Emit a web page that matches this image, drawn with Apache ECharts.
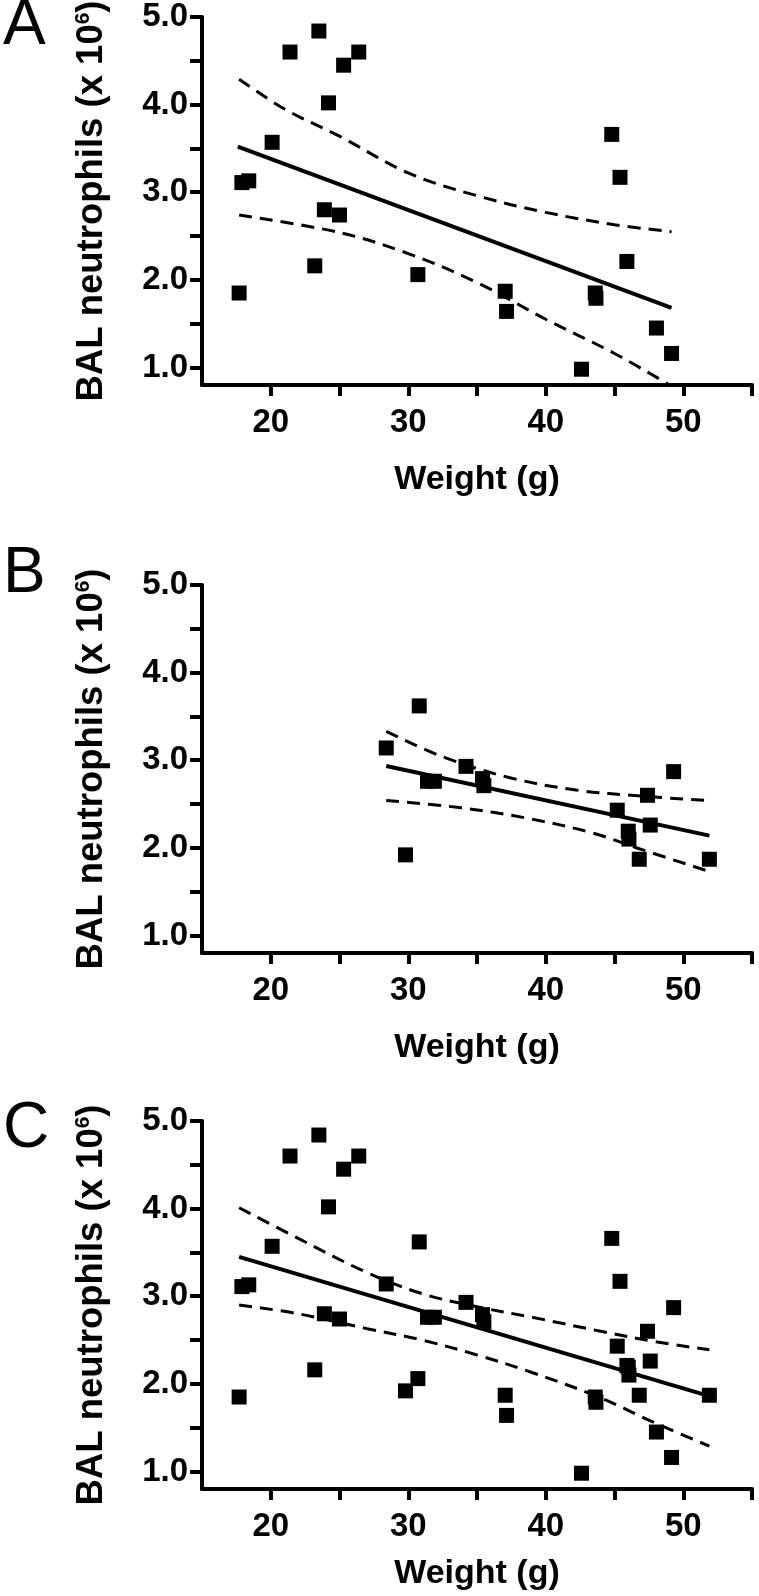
<!DOCTYPE html>
<html>
<head>
<meta charset="utf-8">
<script src="https://cdn.jsdelivr.net/npm/echarts@6/dist/echarts.min.js"></script>
<style>
html,body{margin:0;padding:0;background:#fff;}
#chart{width:759px;height:1596px;}
</style>
</head>
<body>
<div id="chart"></div>
<script>
// ---------- data (weight g, BAL neutrophils x10^6) ----------
const panelA_points = [
  [17.7,1.85],[17.9,3.11],[18.4,3.13],[20.1,3.57],[21.4,4.60],[23.2,2.16],[23.5,4.84],
  [23.9,2.80],[24.2,4.02],[25.0,2.74],[25.3,4.45],[26.4,4.60],[30.7,2.06],[37.05,1.87],
  [37.15,1.64],[42.6,0.98],[43.6,1.85],[43.65,1.79],[44.8,3.66],[45.4,3.17],[45.9,2.21],
  [48.05,1.45],[49.15,1.16]
];
const panelB_points = [
  [28.4,3.14],[29.8,1.92],[30.8,3.62],[31.4,2.76],[31.9,2.76],[34.2,2.93],[35.4,2.79],
  [35.5,2.71],[45.2,2.43],[46.0,2.19],[46.05,2.10],[46.8,1.87],[47.4,2.60],[47.6,2.26],
  [49.3,2.87],[51.9,1.87]
];
const panelC_points = panelA_points.concat(panelB_points);

const panelA_fit   = [[17.6,3.52],[49.15,1.68]];
const panelA_upper = [[17.7,4.29],[21,3.95],[25,3.64],[30,3.22],[35,2.96],[40,2.77],[45,2.63],[49.15,2.55]];
const panelA_lower = [[17.7,2.74],[25,2.54],[30,2.30],[35,1.97],[40,1.55],[45,1.16],[49.0,0.80]];

const panelB_fit   = [[28.4,2.935],[51.9,2.14]];
const panelB_upper = [[28.4,3.33],[32.5,3.04],[37.4,2.80],[42.2,2.66],[47,2.59],[51.9,2.54]];
const panelB_lower = [[28.4,2.54],[33.7,2.46],[38.6,2.34],[43.4,2.17],[47,1.98],[51.9,1.73]];

const panelC_fit   = [[17.7,3.45],[51.9,1.86]];
const panelC_upper = [[17.7,4.01],[22,3.66],[27,3.27],[31,3.03],[35,2.88],[39,2.76],[44,2.60],[48,2.48],[51.9,2.39]];
const panelC_lower = [[17.7,2.90],[22,2.80],[27,2.63],[31,2.50],[35,2.33],[39,2.13],[44,1.84],[48,1.55],[51.9,1.29]];

const xTickValues  = [20,25,30,35,40,45,50,55];
const xLabelValues = [20,30,40,50];
const yTickValues  = [1.0,1.5,2.0,2.5,3.0,3.5,4.0,4.5,5.0];
const yLabelValues = [1,2,3,4,5];
const panelLetters = ['A','B','C'];
const xTitle = 'Weight (g)';
const yTitle = 'BAL neutrophils (x 10{sup|6})';

// ---------- layout ----------
const FONT = '"Liberation Sans", Arial, Helvetica, sans-serif';
const gridTops = [17, 585, 1121];
const letterY = [27, 575, 1130];
const xNameGaps = [78, 78, 68];
const GRID_H = 368, GRID_L = 202, GRID_W = 550;

const chart = echarts.init(document.getElementById('chart'), null, {renderer:'canvas'});

const grids = [], xAxes = [], yAxes = [], series = [];
const panels = [
  {pts: panelA_points, fit: panelA_fit, up: panelA_upper, lo: panelA_lower},
  {pts: panelB_points, fit: panelB_fit, up: panelB_upper, lo: panelB_lower},
  {pts: panelC_points, fit: panelC_fit, up: panelC_upper, lo: panelC_lower}
];

panels.forEach((p, i) => {
  grids.push({left: GRID_L, top: gridTops[i], width: GRID_W, height: GRID_H,
              containLabel: false, outerBoundsMode: 'none'});
  xAxes.push({
    type: 'value', gridIndex: i, min: 15, max: 55, interval: 5,
    axisLine: {lineStyle: {color: '#000', width: 4}},
    axisTick: {show: true, length: 11, lineStyle: {color: '#000', width: 4}, customValues: xTickValues},
    axisLabel: {customValues: xLabelValues, color: '#000', fontFamily: FONT, fontWeight: 'bold', fontSize: 33, margin: 21},
    splitLine: {show: false},
    name: xTitle, nameLocation: 'middle', nameGap: xNameGaps[i],
    nameTextStyle: {color: '#000', fontFamily: FONT, fontWeight: 'bold', fontSize: 34}
  });
  yAxes.push({
    type: 'value', gridIndex: i, min: 0.8, max: 5.0,
    axisLine: {show: true, lineStyle: {color: '#000', width: 4}},
    axisTick: {show: true, length: 12, lineStyle: {color: '#000', width: 4}, customValues: yTickValues},
    axisLabel: {customValues: yLabelValues, color: '#000', fontFamily: FONT, fontWeight: 'bold', fontSize: 33, margin: 14,
      formatter: v => Number(v).toFixed(1)},
    splitLine: {show: false},
    name: yTitle, nameLocation: 'middle', nameGap: 92, nameRotate: 90,
    nameTextStyle: {color: '#000', fontFamily: FONT, fontWeight: 'bold', fontSize: 36.5,
      rich: {sup: {fontSize: 21, fontWeight: 'bold', fontFamily: FONT, color: '#000', verticalAlign: 'top', padding: [0,0,15,0]}}}
  });
  series.push({
    type: 'line', xAxisIndex: i, yAxisIndex: i, data: p.fit, symbol: 'none',
    lineStyle: {color: '#000', width: 4}, z: 3, animation: false
  });
  [p.up, p.lo].forEach(d => series.push({
    type: 'line', xAxisIndex: i, yAxisIndex: i, data: d, symbol: 'none', smooth: 0.35,
    lineStyle: {color: '#000', width: 3, type: [13, 8]}, z: 3, animation: false
  }));
  series.push({
    type: 'scatter', xAxisIndex: i, yAxisIndex: i, data: p.pts, symbol: 'rect', symbolSize: 15,
    itemStyle: {color: '#000', opacity: 1}, z: 4, animation: false
  });
});

const graphics = panelLetters.map((t, i) => ({
  type: 'text', left: 3, top: letterY[i] - 33,
  style: {text: t, fontFamily: FONT, fontSize: 64, fontWeight: 'normal', fill: '#000'}
}));

chart.setOption({
  animation: false,
  backgroundColor: '#fff',
  grid: grids, xAxis: xAxes, yAxis: yAxes, series: series,
  graphic: graphics
});
</script>
</body>
</html>
